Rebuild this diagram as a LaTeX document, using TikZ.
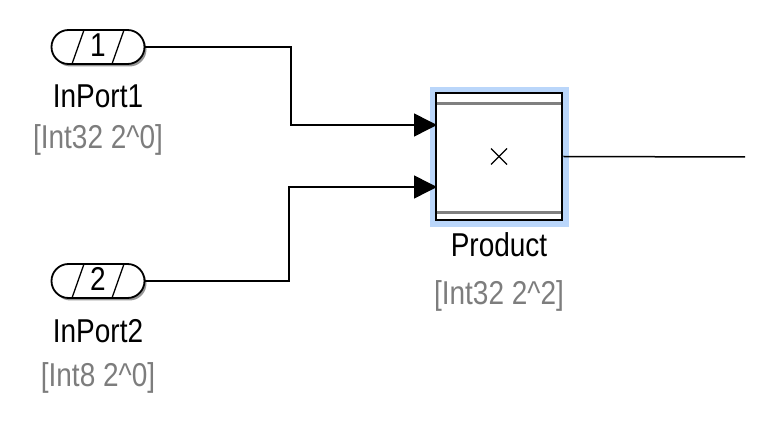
\documentclass[tikz,border=0pt]{standalone}
\usepackage{fontspec}
\setmainfont{Liberation Sans}
\usetikzlibrary{arrows.meta,calc}
\definecolor{hlblue}{RGB}{186,214,250}
\definecolor{txtgrey}{RGB}{125,125,125}
\definecolor{shadowgrey}{RGB}{150,150,150}
\newcommand{\talltext}[1]{\scalebox{1}[1.18]{#1}}
\tikzset{
  pill/.style={draw=black, line width=1.8pt, fill=white, rounded corners=17pt,
    minimum width=93pt, minimum height=34pt, inner sep=0pt},
  pillshadow/.style={fill=shadowgrey, rounded corners=17pt,
    minimum width=93pt, minimum height=34pt, inner sep=0pt},
  digit/.style={anchor=base, inner sep=0pt, font=\fontsize{28}{28}\selectfont},
  name label/.style={anchor=base, inner sep=0pt, font=\fontsize{28}{28}\selectfont},
  type label/.style={anchor=base, inner sep=0pt, text=txtgrey, font=\fontsize{28}{28}\selectfont},
  sig/.style={line width=1.5pt, line join=miter},
  sigarrow/.style={sig, -{Triangle[length=23pt,width=23pt]}},
  slash/.style={line width=1.3pt},
  block/.style={draw=black, line width=2.8pt, fill=white, minimum width=126pt,
    minimum height=127pt, inner sep=0pt},
  highlight/.style={fill=hlblue, minimum width=139pt, minimum height=140pt, inner sep=0pt},
  bar/.style={draw=gray, line width=2.4pt}
}
\begin{document}
\begin{tikzpicture}[x=1pt,y=-1pt]
\useasboundingbox (0,0) rectangle (772,422);
% InPort1
\node[pillshadow] (s1) at (100,49.5) {};
\node[pill] (p1) at (98,47) {};
\draw[slash] ($(p1.center)+(-26,17)$) -- ($(p1.center)+(-14,-17)$);
\draw[slash] ($(p1.center)+(14,17)$) -- ($(p1.center)+(26,-17)$);
\node[digit] (n1) at (98,57) {\talltext{1}};
\node[name label] (l1) at (98,108) {\talltext{InPort1}};
\node[type label] (t1) at (98,149) {\talltext{[Int32 2\char`\^0]}};
% InPort2
\node[pillshadow] (s2) at (100,283.5) {};
\node[pill] (p2) at (98,281) {};
\draw[slash] ($(p2.center)+(-26,17)$) -- ($(p2.center)+(-14,-17)$);
\draw[slash] ($(p2.center)+(14,17)$) -- ($(p2.center)+(26,-17)$);
\node[digit] (n2) at (98,291) {\talltext{2}};
\node[name label] (l2) at (98,343) {\talltext{InPort2}};
\node[type label] (t2) at (98,387) {\talltext{[Int8 2\char`\^0]}};
% Product
\node[highlight] (hl) at (499,157) {};
\node[block] (prod) at (499,156.5) {};
\draw[bar] ($(prod.north west)+(2,12)$) -- ($(prod.north east)+(-2,12)$);
\draw[bar] ($(prod.south west)+(2,-9)$) -- ($(prod.south east)+(-2,-9)$);
\draw[line width=1.1pt] ($(prod.center)+(-8,-8)$) -- ($(prod.center)+(8,8)$);
\draw[line width=1.1pt] ($(prod.center)+(-8,8)$) -- ($(prod.center)+(8,-8)$);
\node[name label] (lp) at (499,257) {\talltext{Product}};
\node[type label] (tp) at (499,305) {\talltext{[Int32 2\char`\^2]}};
% connectors
\coordinate (in1) at (437,125);
\coordinate (in2) at (437,187);
\coordinate (b1) at (291,86);
\coordinate (b2) at (289,234);
\coordinate (out) at (745,157);
\draw[sigarrow] (p1.east) -| (b1) |- (in1);
\draw[sigarrow] (p2.east) -| (b2) |- (in2);
\draw[sig] (prod.east) -- (out);
\end{tikzpicture}
\end{document}
